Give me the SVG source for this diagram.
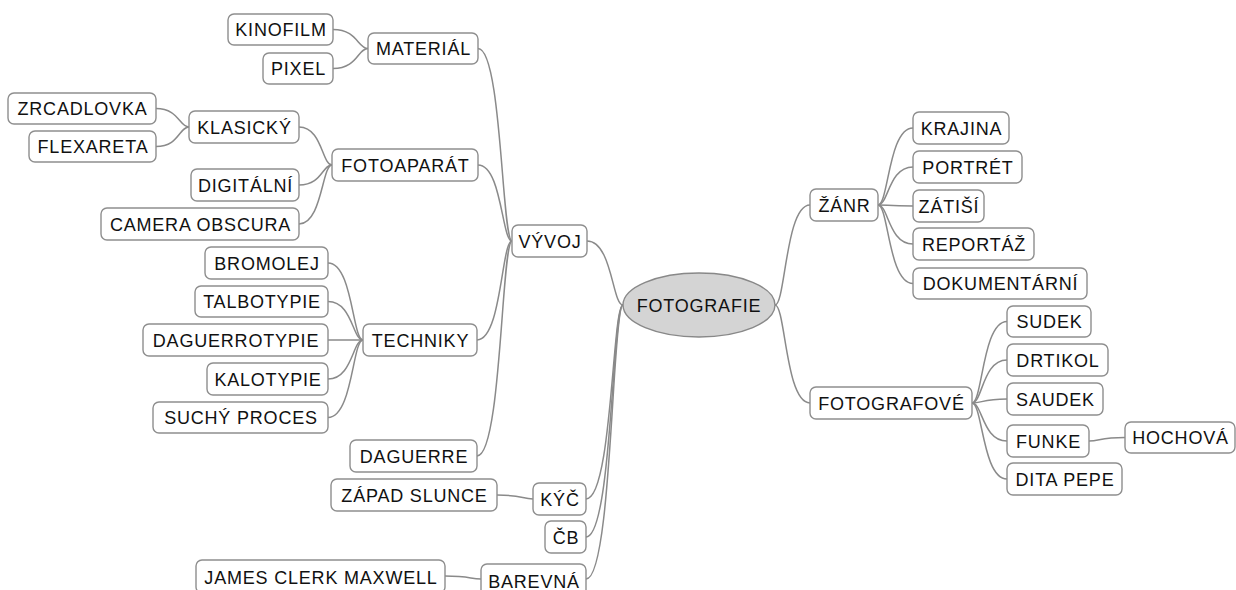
<svg xmlns="http://www.w3.org/2000/svg" width="1236" height="590" viewBox="0 0 1236 590">
<style>
.n rect{fill:#fff;stroke:#8e8e8e;stroke-width:1.4}
.n text,.root text{font-family:"Liberation Sans",Arial,sans-serif;font-size:18px;fill:#111;text-anchor:middle;letter-spacing:0.8px}
.root ellipse{fill:#d4d4d4;stroke:#888;stroke-width:1.4}
#connectors path{fill:none;stroke:#8a8a8a;stroke-width:1.5}
</style>
<rect width="1236" height="590" fill="#fff"/>
<g id="connectors">
<path d="M512,241 C501.8,241 501.8,48.5 478,48.5"/>
<path d="M512,241 C501.8,241 501.8,165 478,165"/>
<path d="M512,241 C501.5,241 501.5,340 477,340"/>
<path d="M512,241 C501.5,241 501.5,456 477,456"/>
<path d="M368,48.5 C357.5,48.5 357.5,29.5 333,29.5"/>
<path d="M368,48.5 C357.5,48.5 357.5,68.5 333,68.5"/>
<path d="M332,165 C322,165 322,127 299,127"/>
<path d="M332,165 C322,165 322,185 299,185"/>
<path d="M332,165 C322,165 322,224 299,224"/>
<path d="M189,127 C179,127 179,108.5 156,108.5"/>
<path d="M189,127 C179,127 179,146.5 156,146.5"/>
<path d="M363,340 C352.5,340 352.5,263 328,263"/>
<path d="M363,340 C352.5,340 352.5,301.5 328,301.5"/>
<path d="M363,340 L328,340"/>
<path d="M363,340 C352.5,340 352.5,379 328,379"/>
<path d="M363,340 C352.5,340 352.5,417.5 328,417.5"/>
<path d="M623,305 C612.2,305 612.2,241 587,241"/>
<path d="M623,305 C612.2,305 612.2,499 586,499"/>
<path d="M623,305 C612.2,305 612.2,537 586,537"/>
<path d="M623,305 C612.2,305 612.2,579 586,579"/>
<path d="M533,499 C522,499 522,495 497,495"/>
<path d="M481,579 C470,579 470,576 445,576"/>
<path d="M775,305 C785.5,305 785.5,205 810,205"/>
<path d="M775,305 C785.5,305 785.5,403 810,403"/>
<path d="M878,205 C888.5,205 888.5,128 913,128"/>
<path d="M878,205 C888.5,205 888.5,167 913,167"/>
<path d="M878,205 C888.5,205 888.5,206 913,206"/>
<path d="M878,205 C888.5,205 888.5,244 913,244"/>
<path d="M878,205 C888.5,205 888.5,283.5 913,283.5"/>
<path d="M972,403 C982.5,403 982.5,321.5 1007,321.5"/>
<path d="M972,403 C982.5,403 982.5,360 1007,360"/>
<path d="M972,403 C982.5,403 982.5,399 1007,399"/>
<path d="M972,403 C982.5,403 982.5,441 1007,441"/>
<path d="M972,403 C982.5,403 982.5,479 1007,479"/>
<path d="M1089,441 C1100,441 1100,437.5 1125,437.5"/>
</g>
<g id="fotografie" class="root"><ellipse cx="699" cy="305" rx="76" ry="32"/><text x="699" y="311.5">FOTOGRAFIE</text></g>
<g id="kinofilm" class="n"><rect x="228" y="14" width="105" height="31" rx="6"/><text x="281" y="36">KINOFILM</text></g>
<g id="pixel" class="n"><rect x="263" y="53" width="70" height="31" rx="6"/><text x="298.5" y="75">PIXEL</text></g>
<g id="material" class="n"><rect x="368" y="33" width="110" height="31" rx="6"/><text x="423.5" y="55">MATERIÁL</text></g>
<g id="zrcadlovka" class="n"><rect x="8" y="93" width="148" height="31" rx="6"/><text x="82.5" y="115">ZRCADLOVKA</text></g>
<g id="flexareta" class="n"><rect x="29" y="131" width="127" height="31" rx="6"/><text x="93" y="153">FLEXARETA</text></g>
<g id="klasicky" class="n"><rect x="189" y="111" width="110" height="32" rx="6"/><text x="244.5" y="133.5">KLASICKÝ</text></g>
<g id="fotoaparat" class="n"><rect x="332" y="149" width="146" height="32" rx="6"/><text x="405.5" y="171.5">FOTOAPARÁT</text></g>
<g id="digitalni" class="n"><rect x="191" y="169" width="108" height="32" rx="6"/><text x="245.5" y="191.5">DIGITÁLNÍ</text></g>
<g id="camera-obscura" class="n"><rect x="101" y="208" width="198" height="32" rx="6"/><text x="200.5" y="230.5">CAMERA OBSCURA</text></g>
<g id="vyvoj" class="n"><rect x="512" y="225" width="75" height="32" rx="6"/><text x="550" y="247.5">VÝVOJ</text></g>
<g id="bromolej" class="n"><rect x="205" y="247" width="123" height="32" rx="6"/><text x="267" y="269.5">BROMOLEJ</text></g>
<g id="talbotypie" class="n"><rect x="195" y="286" width="133" height="31" rx="6"/><text x="262" y="308">TALBOTYPIE</text></g>
<g id="daguerrotypie" class="n"><rect x="143" y="324" width="185" height="32" rx="6"/><text x="236" y="346.5">DAGUERROTYPIE</text></g>
<g id="kalotypie" class="n"><rect x="207" y="363" width="121" height="32" rx="6"/><text x="268" y="385.5">KALOTYPIE</text></g>
<g id="suchy-proces" class="n"><rect x="153" y="402" width="175" height="31" rx="6"/><text x="241" y="424">SUCHÝ PROCES</text></g>
<g id="techniky" class="n"><rect x="363" y="324" width="114" height="32" rx="6"/><text x="420.5" y="346.5">TECHNIKY</text></g>
<g id="daguerre" class="n"><rect x="350" y="440" width="127" height="32" rx="6"/><text x="414" y="462.5">DAGUERRE</text></g>
<g id="zapad-slunce" class="n"><rect x="331" y="479" width="166" height="32" rx="6"/><text x="414.5" y="501.5">ZÁPAD SLUNCE</text></g>
<g id="kyc" class="n"><rect x="533" y="483" width="53" height="32" rx="6"/><text x="560" y="505.5">KÝČ</text></g>
<g id="cb" class="n"><rect x="545" y="521" width="41" height="32" rx="6"/><text x="566" y="543.5">ČB</text></g>
<g id="james-clerk-maxwell" class="n"><rect x="196" y="560" width="249" height="33" rx="6"/><text x="321" y="584">JAMES CLERK MAXWELL</text></g>
<g id="barevna" class="n"><rect x="481" y="564" width="105" height="33" rx="6"/><text x="534" y="588">BAREVNÁ</text></g>
<g id="zanr" class="n"><rect x="810" y="189" width="68" height="32" rx="6"/><text x="844.5" y="211.5">ŽÁNR</text></g>
<g id="krajina" class="n"><rect x="913" y="112" width="96" height="32" rx="6"/><text x="961.5" y="134.5">KRAJINA</text></g>
<g id="portret" class="n"><rect x="913" y="151" width="109" height="32" rx="6"/><text x="968" y="173.5">PORTRÉT</text></g>
<g id="zatisi" class="n"><rect x="913" y="190" width="71" height="32" rx="6"/><text x="949" y="212.5">ZÁTIŠÍ</text></g>
<g id="reportaz" class="n"><rect x="913" y="228" width="121" height="32" rx="6"/><text x="974" y="250.5">REPORTÁŽ</text></g>
<g id="dokumentarni" class="n"><rect x="913" y="268" width="174" height="31" rx="6"/><text x="1000.5" y="290">DOKUMENTÁRNÍ</text></g>
<g id="fotografove" class="n"><rect x="810" y="387" width="162" height="32" rx="6"/><text x="891.5" y="409.5">FOTOGRAFOVÉ</text></g>
<g id="sudek" class="n"><rect x="1007" y="306" width="84" height="31" rx="6"/><text x="1049.5" y="328">SUDEK</text></g>
<g id="drtikol" class="n"><rect x="1007" y="344" width="101" height="32" rx="6"/><text x="1058" y="366.5">DRTIKOL</text></g>
<g id="saudek" class="n"><rect x="1007" y="383" width="96" height="32" rx="6"/><text x="1055.5" y="405.5">SAUDEK</text></g>
<g id="funke" class="n"><rect x="1007" y="425" width="82" height="32" rx="6"/><text x="1048.5" y="447.5">FUNKE</text></g>
<g id="hochova" class="n"><rect x="1125" y="422" width="110" height="31" rx="6"/><text x="1180.5" y="444">HOCHOVÁ</text></g>
<g id="dita-pepe" class="n"><rect x="1007" y="463" width="115" height="32" rx="6"/><text x="1065" y="485.5">DITA PEPE</text></g>
</svg>
